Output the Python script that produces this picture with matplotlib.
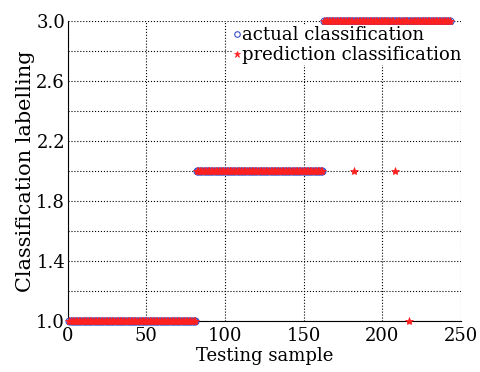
import numpy as np
import matplotlib.pyplot as plt

# class labels and how many test samples belong to each
class_labels = [1, 2, 3]
class_sizes = [81, 81, 81]

# misclassified samples: sample index -> predicted label
wrong_idx = [182, 208, 217]
wrong_pred = [2, 2, 1]

actual = np.repeat(class_labels, class_sizes).astype(float)
samples = np.arange(1, len(actual) + 1)
pred = actual.copy()
for i, p in zip(wrong_idx, wrong_pred):
    pred[i - 1] = p

plt.rcParams['font.family'] = ['DejaVu Serif']
plt.rcParams['font.size'] = 13

fig = plt.figure(figsize=(4.81, 3.72), dpi=100)
ax = fig.add_axes([0.141, 0.137, 0.817, 0.807])

ax.plot(samples, actual, 'o', mfc='none', mec='#3a4fc8', ms=5, mew=0.8,
        label='actual classification', clip_on=False, zorder=3)
ax.plot(samples, pred, '*', color='#ff2020', ms=6, mew=0.5,
        label='prediction classification', clip_on=False, zorder=4)

ax.set_xlim(0, 250)
ax.set_ylim(1.0, 3.0)
ax.set_xticks([0, 50, 100, 150, 200, 250])
ax.set_yticks([1.0, 1.4, 1.8, 2.2, 2.6, 3.0])
ax.set_yticks(np.arange(1.0, 3.01, 0.2), minor=True)
ax.set_yticklabels(['1.0', '1.4', '1.8', '2.2', '2.6', '3.0'])
ax.grid(True, which='both', linestyle=':', color='black', linewidth=0.8)
ax.tick_params(direction='in', length=0, which='both', labelsize=13, pad=2)
ax.tick_params(axis='x', pad=4)
ax.spines['top'].set_visible(False)
ax.spines['right'].set_visible(False)

ax.set_xlabel('Testing sample', fontsize=13, labelpad=2)
ax.set_ylabel('Classification labelling', fontsize=15, labelpad=1)

leg = ax.legend(loc='upper left', bbox_to_anchor=(0.42, 0.985), frameon=True,
                handlelength=0.35, handletextpad=0.1, borderpad=0.05,
                labelspacing=0.1, fontsize=13, borderaxespad=0,
                markerscale=0.8)
leg.get_frame().set_edgecolor('none')
leg.get_frame().set_facecolor('white')
leg.get_frame().set_alpha(1)

fig.savefig('out.png', dpi=100)
